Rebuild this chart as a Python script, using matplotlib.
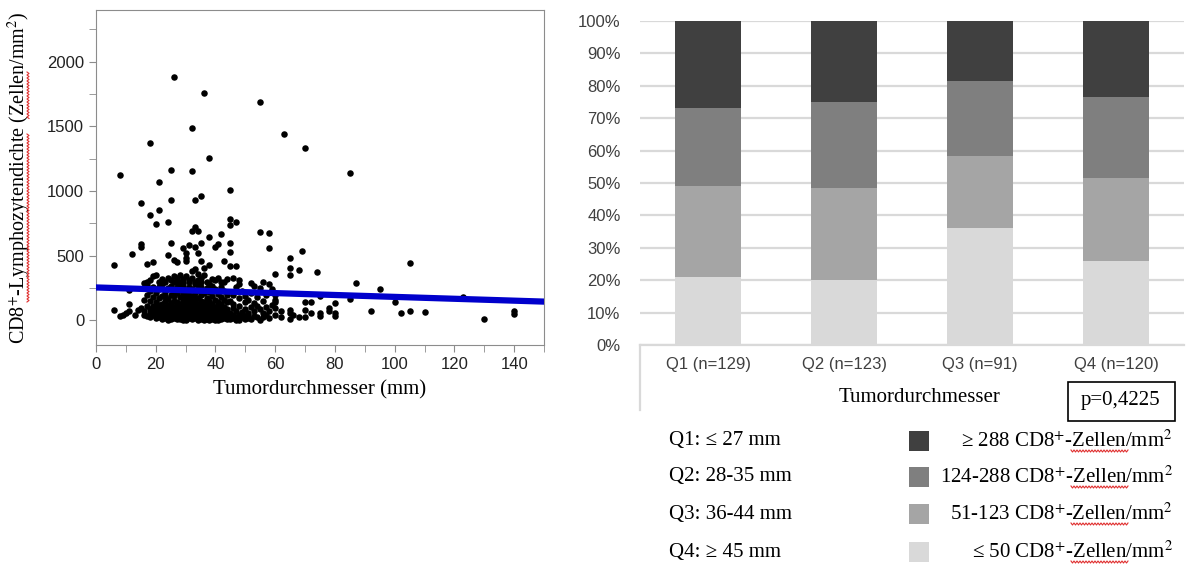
import numpy as np
import matplotlib.pyplot as plt
from matplotlib.patches import Rectangle

plt.rcParams['font.family'] = ['Liberation Sans', 'DejaVu Sans']
plt.rcParams['mathtext.fontset'] = 'stix'

SERIF = ['Liberation Serif', 'DejaVu Serif']

# tumour diameter (mm) vs CD8+ density (cells/mm^2), grouped by quartile
q1_mm = [8, 26, 18, 25, 21, 15, 25, 18, 21, 24, 20, 15, 15, 25, 12, 24, 26, 27, 17, 19, 6, 18, 19, 20,
         22, 23, 24, 25, 26, 27, 17, 21, 16, 26, 27,
         6, 10, 11, 14, 15, 16, 17, 18, 18, 19, 19, 20, 20, 21, 21, 22, 22, 22, 23, 23, 23, 24, 24, 24,
         25, 25, 25, 26, 26, 26, 27, 27, 27, 20, 24, 26,
         8, 13, 9, 16, 17, 18, 19, 20, 20, 21, 21, 22, 22, 23, 23, 24, 24, 25, 25, 26, 26, 27, 27, 19,
         22, 25, 24,
         11, 11, 16, 17, 21, 17, 18, 18, 19, 19, 20, 20, 21, 21, 22, 22, 22, 23, 23, 24, 24, 25, 25, 25,
         26, 26, 26, 27, 27, 27, 23]
q1_cd8 = [1125, 1884, 1375, 1163, 1073, 906, 932, 818, 855, 764, 744, 589, 571, 597, 515, 507, 469, 450,
          435, 453, 425, 314, 340, 353, 320, 300, 330, 310, 340, 300, 300, 295, 290, 295, 330,
          82, 57, 69, 82, 95, 70, 110, 60, 90, 75, 115, 55, 100, 80, 120, 65, 95, 110, 55, 85, 105, 60,
          75, 120, 90, 68, 115, 58, 80, 100, 62, 88, 118, 78, 95, 72,
          31, 44, 40, 45, 38, 25, 40, 15, 35, 30, 48, 10, 28, 20, 42, 5, 30, 12, 45, 22, 38, 8, 32, 50,
          45, 28, 48,
          129, 232, 160, 275, 257, 200, 150, 230, 180, 260, 140, 210, 170, 240, 130, 190, 280, 150, 220,
          165, 250, 135, 200, 270, 150, 185, 230, 140, 210, 260, 185]

q2_mm = [32, 32, 33, 35, 33, 32, 34, 31, 29, 30, 33, 35, 34, 30, 30, 35, 33, 28, 29, 30, 31, 32, 33, 34,
         35, 29, 31, 35, 28, 34, 32,
         28, 28, 28, 29, 29, 29, 29, 30, 30, 30, 31, 31, 31, 32, 32, 32, 33, 33, 33, 33, 34, 34, 34, 35,
         35, 35, 35, 30, 31, 28, 32, 34, 29, 33, 35,
         28, 28, 29, 29, 30, 30, 31, 31, 32, 32, 33, 33, 34, 34, 35, 35, 28, 29, 30, 31, 32, 33, 34, 35,
         30,
         28, 28, 28, 29, 29, 29, 30, 30, 30, 31, 31, 31, 32, 32, 32, 33, 33, 33, 34, 34, 34, 35, 35, 35,
         28, 30, 31, 33, 34, 35, 29, 32]
q2_cd8 = [1485, 1156, 932, 965, 726, 695, 695, 584, 559, 520, 571, 597, 520, 481, 456, 456, 396, 300,
          320, 340, 310, 330, 300, 315, 330, 290, 295, 300, 350, 360, 380,
          60, 85, 110, 55, 75, 100, 120, 65, 90, 115, 58, 80, 105, 70, 95, 118, 55, 78, 100, 122, 62, 88,
          110, 58, 75, 98, 120, 52, 122, 95, 60, 75, 88, 66, 108,
          10, 35, 20, 45, 5, 28, 15, 40, 8, 30, 18, 45, 5, 25, 12, 38, 48, 2, 42, 25, 48, 32, 44, 22, 18,
          130, 180, 240, 150, 210, 270, 140, 175, 230, 160, 200, 260, 135, 190, 245, 145, 215, 280, 130,
          170, 235, 150, 195, 255, 285, 200, 130, 170, 275, 225, 180, 165]

q3_mm = [36, 38, 38, 42, 40, 41, 38, 43, 36, 37, 39, 40, 41, 42, 43, 44, 36,
         36, 36, 37, 37, 38, 38, 39, 39, 40, 40, 41, 41, 42, 42, 43, 43, 44, 44, 38, 40,
         36, 36, 36, 37, 37, 37, 38, 38, 38, 39, 39, 39, 40, 40, 40, 41, 41, 41, 42, 42, 42, 43, 43, 44,
         44, 44, 37, 39, 40, 41, 42, 43, 36,
         36, 36, 37, 37, 38, 38, 39, 39, 39, 40, 40, 41, 41, 42, 42, 42, 43, 43, 44, 44, 38]
q3_cd8 = [1755, 1259, 644, 667, 571, 592, 425, 461, 404, 300, 320, 310, 330, 295, 300, 320, 350,
          60, 95, 75, 115, 55, 90, 70, 110, 62, 100, 80, 120, 58, 95, 72, 105, 65, 90, 120, 80,
          5, 20, 40, 10, 28, 48, 3, 18, 35, 8, 25, 45, 12, 30, 50, 5, 22, 40, 10, 30, 46, 15, 35, 8, 25,
          42, 38, 15, 2, 32, 20, 48, 30,
          140, 210, 170, 250, 150, 220, 130, 190, 270, 160, 240, 145, 205, 130, 180, 260, 155, 230, 140,
          200, 285]

q4_mm = [55, 63, 70, 85, 45, 45, 47, 45, 55, 58, 58, 45, 45, 69, 65, 47, 45, 105, 65, 68, 65, 74, 60,
         87, 48, 52, 56, 46,
         95, 123, 100, 85, 70, 72, 80, 60, 60, 60, 45, 46, 47, 48, 49, 50, 50, 51, 52, 53, 54, 55, 56,
         57, 58, 59, 46, 48, 53, 75,
         92, 102, 105, 110, 140, 140, 70, 72, 75, 78, 78, 65, 65, 45, 46, 47, 48, 49, 50, 51, 52, 53,
         54, 55, 56, 57, 58, 59, 60, 62, 80,
         130, 70, 68, 75, 80, 65, 45, 45, 46, 46, 47, 47, 48, 48, 49, 49, 50, 50, 51, 51, 52, 53, 54,
         55, 56, 57, 58, 60, 62, 66, 48]
q4_cd8 = [1686, 1441, 1331, 1143, 1009, 785, 759, 739, 680, 674, 559, 597, 528, 533, 486, 417, 417,
          443, 402, 391, 353, 371, 360, 293, 310, 290, 300, 330,
          242, 178, 141, 167, 141, 141, 134, 160, 198, 139, 150, 200, 260, 170, 230, 140, 190, 160, 210,
          135, 180, 250, 150, 200, 280, 240, 130, 280, 270, 190,
          75, 57, 75, 64, 75, 51, 82, 57, 57, 69, 95, 82, 57, 60, 95, 75, 110, 65, 90, 55, 100, 70, 115,
          85, 60, 105, 75, 120, 95, 70, 60,
          13, 23, 23, 36, 36, 10, 10, 35, 20, 45, 5, 30, 15, 40, 25, 48, 8, 32, 20, 45, 12, 38, 25, 5,
          30, 45, 18, 40, 28, 45, 2]

tumor_mm = q1_mm + q2_mm + q3_mm + q4_mm
cd8_density = q1_cd8 + q2_cd8 + q3_cd8 + q4_cd8

# linear fit shown over the scatter
fit_intercept = 255
fit_slope = -0.73

# stacked shares per quartile (%), bottom to top
quartiles = ['Q1 (n=129)', 'Q2 (n=123)', 'Q3 (n=91)', 'Q4 (n=120)']
share_le50 = [21.1, 20.2, 36.1, 26.0]
share_51_123 = [28.0, 28.4, 22.3, 25.5]
share_124_288 = [23.9, 26.4, 23.1, 25.1]
share_ge288 = [27.0, 25.0, 18.5, 23.4]
bar_colors = ['#d9d9d9', '#a5a5a5', '#7f7f7f', '#404040']

quartile_ranges = ['Q1: \u2264 27 mm', 'Q2: 28-35 mm', 'Q3: 36-44 mm', 'Q4: \u2265 45 mm']
density_labels = ['\u2265 288 CD8$^{+}$-Zellen/mm$^{2}$',
                  '124-288 CD8$^{+}$-Zellen/mm$^{2}$',
                  '51-123 CD8$^{+}$-Zellen/mm$^{2}$',
                  '\u2264 50 CD8$^{+}$-Zellen/mm$^{2}$']
p_value = 'p=0,4225'

W, H = 1187, 565
fig = plt.figure(figsize=(W / 100, H / 100), dpi=100)


def fx(px):
    return px / W


def fy(py):
    return 1 - py / H


def squiggle(x0, y0, length, vertical=False):
    # red spell-check wave, given in pixel coordinates
    t = np.arange(0, length + 0.1, 1.5)
    off = np.where(np.arange(len(t)) % 2 == 0, -1.0, 1.0)
    if vertical:
        xs, ys = x0 + off, y0 + t
    else:
        xs, ys = x0 + t, y0 + off
    fig.add_artist(plt.Line2D(fx(xs), fy(ys), transform=fig.transFigure, color='#e03030', lw=0.8))


# ---- scatter plot ----
ax1 = fig.add_axes([fx(96), fy(345), fx(448), 335 / H])
ax1.scatter(tumor_mm, cd8_density, s=22, color='black', zorder=3, linewidths=0)
xs = np.array([0, 150])
ax1.plot(xs, fit_intercept + fit_slope * xs, color='#0000cc', lw=4.5, zorder=4)
ax1.set_xlim(0, 150)
ax1.set_ylim(-190, 2400)
ax1.set_xticks(range(0, 141, 20))
ax1.set_xticks(range(0, 151, 10), minor=True)
ax1.set_yticks(range(0, 2001, 500))
ax1.set_yticks(range(0, 2251, 250), minor=True)
for s in ax1.spines.values():
    s.set_color('#8c8c8c')
ax1.tick_params(which='both', colors='#8c8c8c', labelcolor='#222222', labelsize=12, length=5)
ax1.set_xlabel('Tumordurchmesser (mm)', family=SERIF, fontsize=15, labelpad=6)
ax1.set_ylabel('CD8$^{+}$-Lymphozytendichte (Zellen/mm$^{2}$)', family=SERIF, fontsize=14.5,
               labelpad=10)
squiggle(28, 72, 47, vertical=True)
squiggle(28, 134, 168, vertical=True)

# ---- stacked bar chart ----
ax2 = fig.add_axes([fx(640), fy(345), fx(544), 324 / H])
x = np.arange(len(quartiles))
bottom = np.zeros(len(quartiles))
for vals, col in zip([share_le50, share_51_123, share_124_288, share_ge288], bar_colors):
    ax2.bar(x, vals, width=0.49, bottom=bottom, color=col, zorder=3)
    bottom += np.array(vals)
ax2.set_xlim(-0.5, 3.5)
ax2.set_ylim(0, 100)
ax2.set_yticks(range(0, 101, 10))
ax2.set_yticklabels([f'{v}%' for v in range(0, 101, 10)])
ax2.yaxis.grid(True, color='#d9d9d9', lw=1.6, zorder=0)
ax2.set_axisbelow(True)
for side in ['top', 'right', 'left']:
    ax2.spines[side].set_visible(False)
ax2.spines['bottom'].set_color('#d9d9d9')
ax2.spines['bottom'].set_linewidth(1.6)
ax2.set_xticks(x)
ax2.set_xticklabels(quartiles)
ax2.tick_params(axis='x', length=0, pad=9, labelsize=12, labelcolor='#404040')
ax2.tick_params(axis='y', length=0, pad=14, labelsize=12, labelcolor='#404040')
ax2.plot([0, 0], [0, -0.2], transform=ax2.transAxes, color='#d9d9d9', lw=1.6, clip_on=False)

fig.text(fx(920), fy(398), 'Tumordurchmesser', family=SERIF, fontsize=15, ha='center', va='center')
fig.text(fx(1121), fy(401), p_value, family=SERIF, fontsize=15, ha='center', va='center')
fig.add_artist(Rectangle((fx(1068), fy(421)), fx(107), 39 / H, transform=fig.transFigure,
                         fill=False, edgecolor='black', lw=1.2))

# ---- legend block ----
rows_y = [441, 477, 514, 552]
legend_colors = bar_colors[::-1]
for ry, qtxt, dtxt, col in zip(rows_y, quartile_ranges, density_labels, legend_colors):
    fig.text(fx(669), fy(ry), qtxt, family=SERIF, fontsize=15, ha='left', va='center')
    fig.add_artist(Rectangle((fx(909), fy(ry + 10)), fx(20), 20 / H, transform=fig.transFigure,
                             color=col, lw=0))
    fig.text(fx(1173), fy(ry), dtxt, family=SERIF, fontsize=15, ha='right', va='center')
    squiggle(1071, ry + 10, 58)

fig.savefig('out.png', dpi=100)
